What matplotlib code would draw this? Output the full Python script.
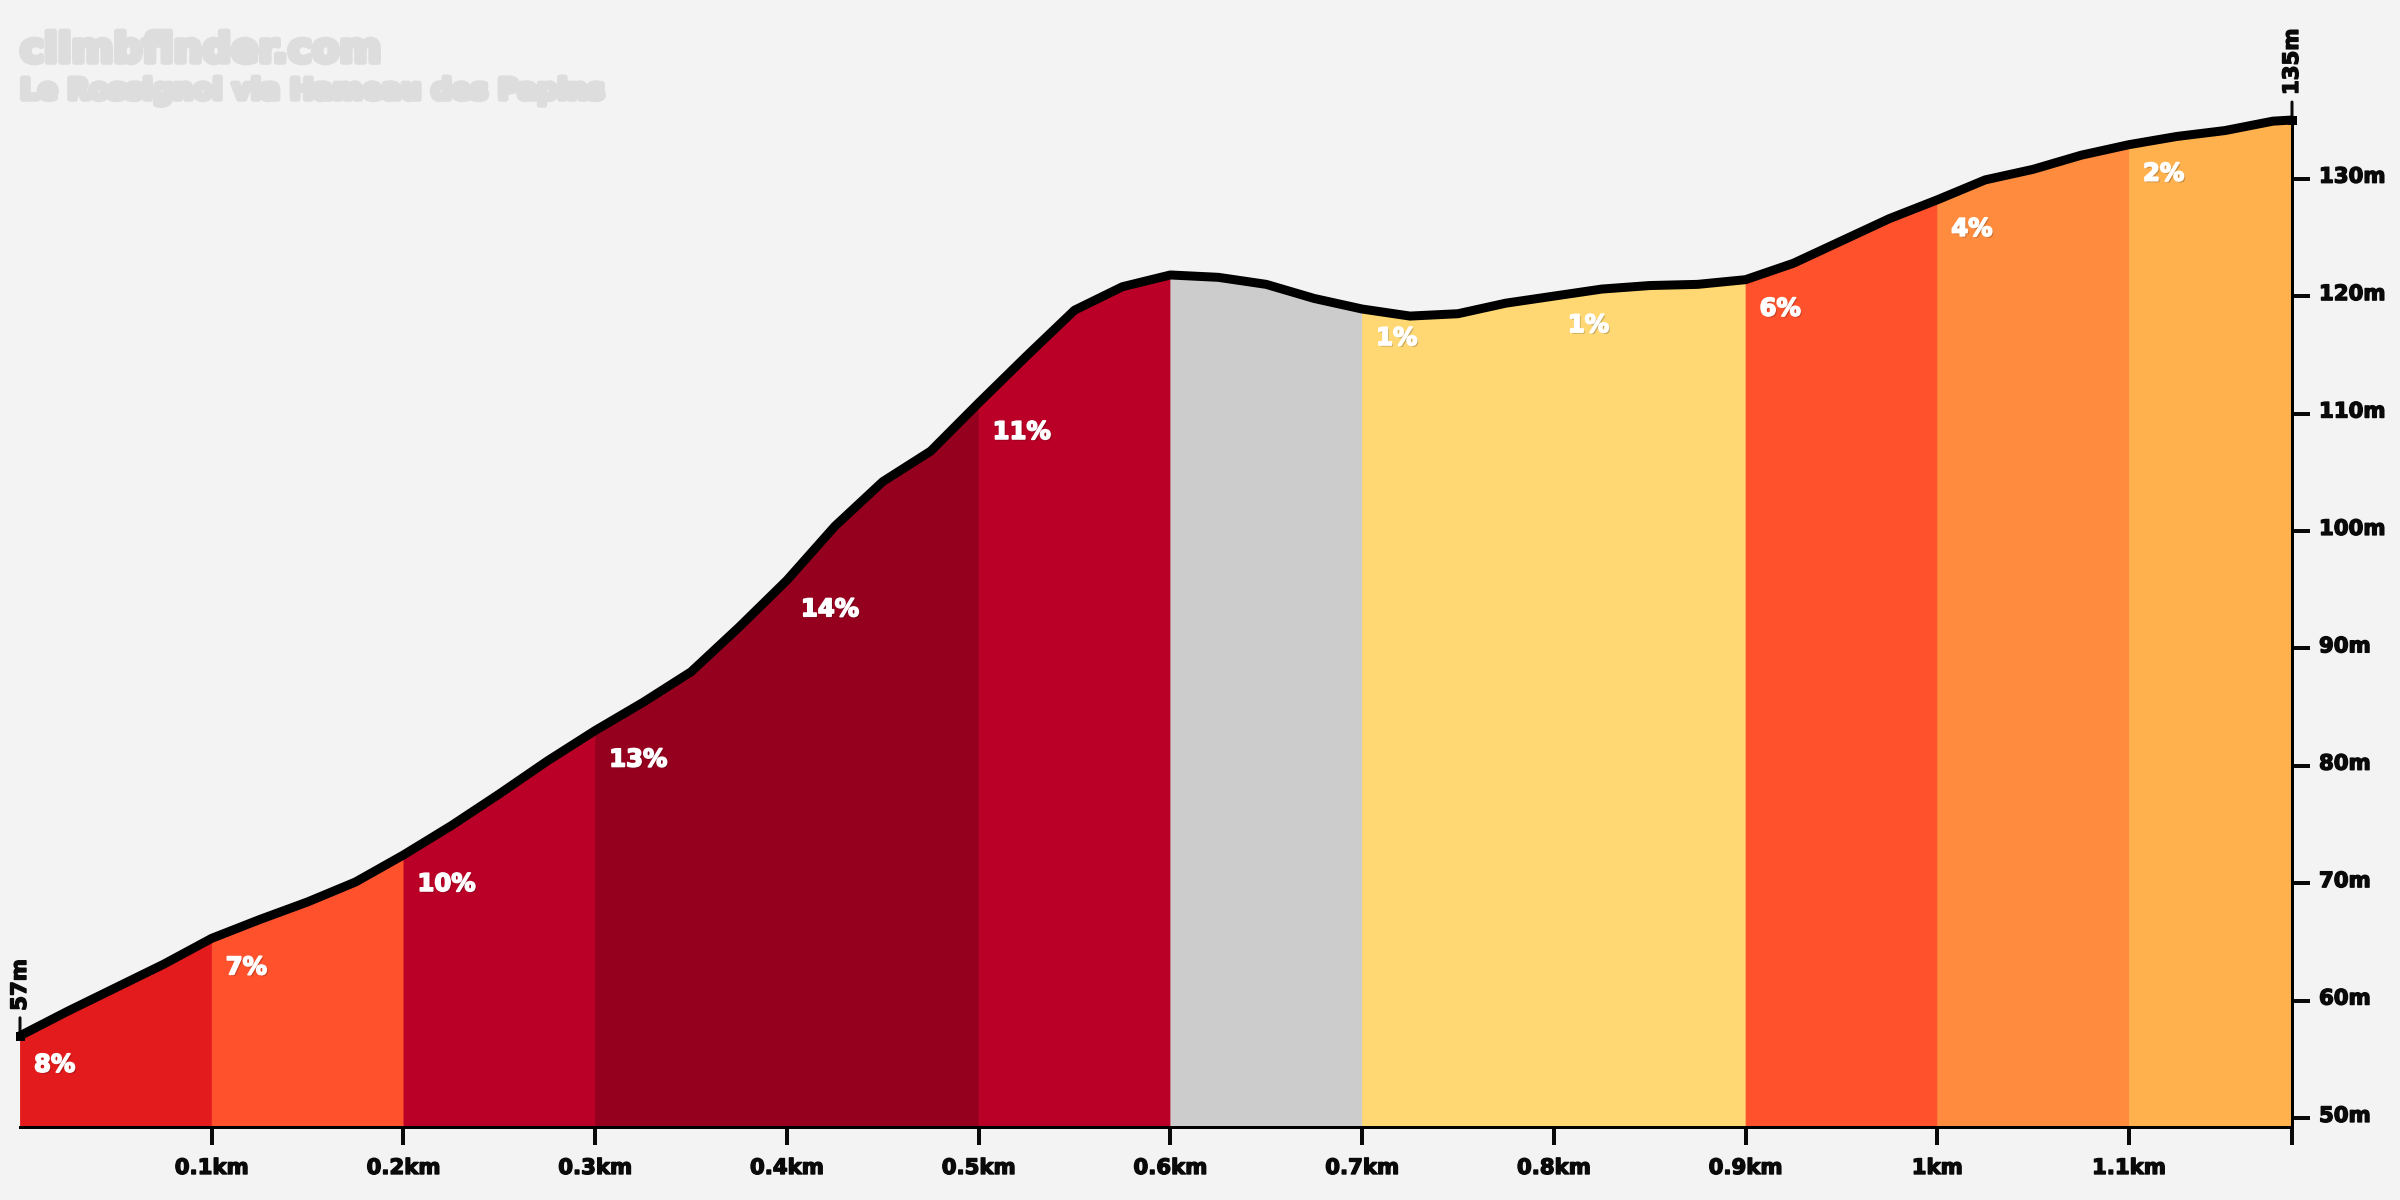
"""
Climb profile - Le Rossignol via Hameau des Papins
"""

import numpy as np
import matplotlib
matplotlib.use('Agg')
import matplotlib.pyplot as plt
import matplotlib.patheffects as pe
from matplotlib.transforms import ScaledTranslation

# Profile, one point every 25 m
distance_km = [0.0, 0.025, 0.05, 0.075, 0.1, 0.125, 0.15, 0.175, 0.2, 0.225,
               0.25, 0.275, 0.3, 0.325, 0.35, 0.375, 0.4, 0.425, 0.45, 0.475,
               0.5, 0.525, 0.55, 0.575, 0.6, 0.625, 0.65, 0.675, 0.7, 0.725,
               0.75, 0.775, 0.8, 0.825, 0.85, 0.875, 0.9, 0.925, 0.95, 0.975,
               1.0, 1.025, 1.05, 1.075, 1.1, 1.125, 1.15, 1.175, 1.185]
elevation_m = [57.0, 59.1, 61.1, 63.1, 65.3, 66.9, 68.4, 70.1, 72.4, 74.9,
               77.6, 80.4, 83.0, 85.4, 88.0, 91.8, 95.8, 100.4, 104.2, 106.8,
               110.9, 114.9, 118.8, 120.8, 121.8, 121.6, 121.0, 119.8, 118.9, 118.3,
               118.5, 119.4, 120.0, 120.6, 120.9, 121.0, 121.4, 122.8, 124.7, 126.6,
               128.2, 129.9, 130.8, 132.0, 132.9, 133.6, 134.1, 134.9, 135.0]

# Gradient segments
seg_start = [0.0, 0.1, 0.2, 0.3, 0.4, 0.5, 0.6, 0.7, 0.8, 0.9, 1.0, 1.1]
seg_end = [0.1, 0.2, 0.3, 0.4, 0.5, 0.6, 0.7, 0.8, 0.9, 1.0, 1.1, 1.185]
seg_label = ['8%', '7%', '10%', '13%', '14%', '11%', '', '1%', '1%', '6%', '4%', '2%']
seg_color = ['#e31b1c', '#ff512b', '#ba0026', '#95001f', '#95001f', '#ba0026',
             '#cccccc', '#ffd873', '#ffd873', '#ff512b', '#ff8c3e', '#ffb14e']

x_ticks = [0.1, 0.2, 0.3, 0.4, 0.5, 0.6, 0.7, 0.8, 0.9, 1.0, 1.1, 1.185]
x_tick_labels = ['0.1km', '0.2km', '0.3km', '0.4km', '0.5km', '0.6km', '0.7km',
                 '0.8km', '0.9km', '1km', '1.1km', '']
y_ticks = [50, 60, 70, 80, 90, 100, 110, 120, 130]
y_tick_labels = ['50m', '60m', '70m', '80m', '90m', '100m', '110m', '120m', '130m']

BG = '#f3f3f3'
INK = '#0a0a0a'
FONT = 'DejaVu Sans'
PX = 0.72  # points per pixel at dpi 100

fig = plt.figure(figsize=(24, 12), dpi=100, facecolor=BG)
ax = fig.add_axes([20 / 2400, 73 / 1200, 2272 / 2400, 1007 / 1200], facecolor=BG)

# Coloured segments under the curve, edge in the same colour to close the seams
xs = np.array(distance_km)
ys = np.array(elevation_m)
for start, end, color in zip(seg_start, seg_end, seg_color):
    mask = (xs >= start - 1e-9) & (xs <= end + 1e-9)
    ax.fill_between(xs[mask], 49.23, ys[mask], facecolor=color, edgecolor=color,
                    lw=0.6, zorder=1)

ax.plot(xs, ys, color='black', lw=9 * PX, solid_capstyle='butt',
        solid_joinstyle='round', clip_on=False, zorder=4)
# short square stubs where the line ends
ax.plot(xs[[0, -1]], ys[[0, -1]], ls='none', marker='s', ms=9 * PX, color='black',
        mew=0, clip_on=False, zorder=4)

# Gradient labels, just under the line at the start of each segment
label_fx = [pe.withSimplePatchShadow(offset=(1.2, -1.2), shadow_rgbFace='#000000', alpha=0.2),
            pe.Stroke(linewidth=1.2, foreground='white'), pe.Normal()]
for start, label in zip(seg_start, seg_label):
    if not label:
        continue
    ax.annotate(label, (start, np.interp(start, xs, ys)),
                xytext=(14 * PX, -29 * PX), textcoords='offset points',
                ha='left', va='center', fontsize=17.5, fontweight='bold',
                family=FONT, color='white', zorder=5, path_effects=label_fx)

# Axes
ax.set_xlim(0, 1.185)
ax.set_ylim(49.23, 135.0)
for side in ['top', 'left']:
    ax.spines[side].set_visible(False)
ax.spines['bottom'].set_linewidth(3 * PX)
ax.spines['right'].set_linewidth(3 * PX)
ax.spines['bottom'].set_zorder(6)
ax.spines['right'].set_zorder(6)

ax.yaxis.tick_right()
ax.set_xticks(x_ticks, x_tick_labels)
ax.set_yticks(y_ticks, y_tick_labels)
ax.tick_params(axis='x', length=18 * PX, width=4 * PX, pad=13 * PX, color=INK)
ax.tick_params(axis='y', length=18 * PX, width=4 * PX, pad=9 * PX, color=INK)
ink_fx = [pe.withStroke(linewidth=1.0, foreground=INK)]
for tick in ax.get_xticklabels() + ax.get_yticklabels():
    tick.set_fontsize(15.3)
    tick.set_fontweight('bold')
    tick.set_family(FONT)
    tick.set_color(INK)
    tick.set_path_effects(ink_fx)
lift = ScaledTranslation(0, 4 / 100, fig.dpi_scale_trans)
for tick in ax.get_yticklabels():
    tick.set_transform(tick.get_transform() + lift)

# Start and finish elevation markers
for x_pos, y_pos, label in [(xs[0], ys[0], '57m'), (xs[-1], ys[-1], '135m')]:
    ax.annotate(label, (x_pos, y_pos), xytext=(0, 25 * PX),
                textcoords='offset points', rotation=90, ha='center', va='bottom',
                fontsize=15.3, fontweight='bold', family=FONT, color=INK,
                annotation_clip=False, path_effects=ink_fx)
    ax.annotate('', (x_pos, y_pos), xytext=(0, 18 * PX), textcoords='offset points',
                arrowprops=dict(arrowstyle='-', color=INK, lw=3 * PX, shrinkA=0, shrinkB=0),
                annotation_clip=False)

# Watermark
outline = [pe.withStroke(linewidth=4, foreground='#dddddd')]
fig.text(20 / 2400, 1 - 62 / 1200, 'climbfinder.com', fontsize=29, fontweight='bold',
         family=FONT, color='#dddddd', path_effects=outline)
fig.text(20 / 2400, 1 - 99 / 1200, 'Le Rossignol via Hameau des Papins', fontsize=20.5,
         fontweight='bold', family=FONT, color='#dddddd', path_effects=outline)

fig.savefig('out.png', dpi=100, facecolor=BG)
